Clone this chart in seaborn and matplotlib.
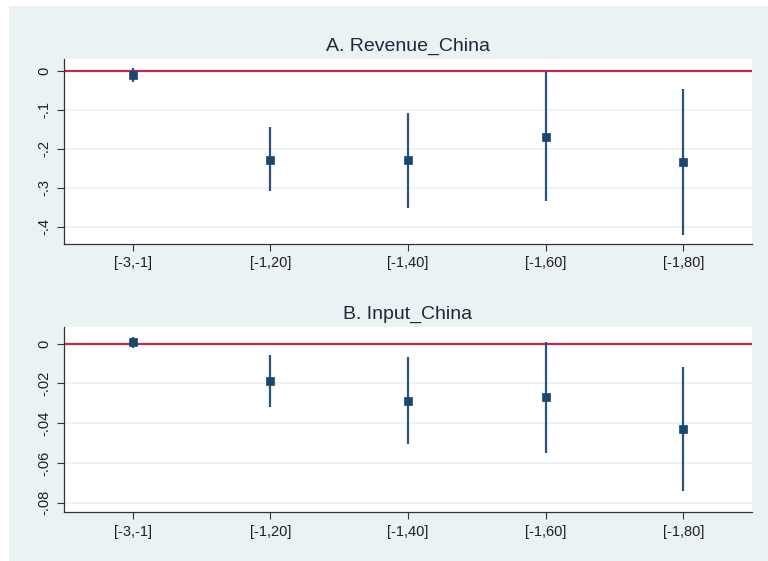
import numpy as np
import pandas as pd
import matplotlib
matplotlib.use("Agg")
import matplotlib.pyplot as plt
import seaborn as sns

# ---- data ----
categories = ["[-3,-1]", "[-1,20]", "[-1,40]", "[-1,60]", "[-1,80]"]

rev_coef = [-0.010, -0.228, -0.230, -0.169, -0.235]
rev_lo = [-0.028, -0.308, -0.351, -0.333, -0.421]
rev_hi = [0.006, -0.144, -0.109, -0.004, -0.048]
rev_yticks = [0, -0.1, -0.2, -0.3, -0.4]
rev_yticklabels = ["0", "-.1", "-.2", "-.3", "-.4"]

inp_coef = [0.0009, -0.0186, -0.0288, -0.0270, -0.0431]
inp_lo = [-0.0020, -0.0317, -0.0505, -0.0548, -0.0741]
inp_hi = [0.0035, -0.0058, -0.0069, 0.0010, -0.0116]
inp_yticks = [0, -0.02, -0.04, -0.06, -0.08]
inp_yticklabels = ["0", "-.02", "-.04", "-.06", "-.08"]

titles = ["A. Revenue_China", "B. Input_China"]

sns.set_theme(style="white")
plt.rcParams["font.family"] = ["Liberation Sans", "DejaVu Sans"]

BG = "#EAF2F3"
NAVY = "#1A476F"
CI = "#2E5378"
RED = "#C8264B"
TXT = "#1f1f1f"

fig = plt.figure(figsize=(7.68, 5.61), dpi=100)
fig.patch.set_facecolor("white")
bgrect = plt.Rectangle((9 / 768, 0), 1 - 9 / 768, 1 - 6 / 561,
                       transform=fig.transFigure, facecolor=BG,
                       edgecolor="none", zorder=-10)
fig.add_artist(bgrect)

W, H = 768, 561
def axpos(l, t, r, b):
    return [l / W, 1 - b / H, (r - l) / W, (b - t) / H]

panels = [
    (axpos(64, 59, 752, 244), rev_coef, rev_lo, rev_hi, rev_yticks, rev_yticklabels, (-0.444, 0.030)),
    (axpos(64, 327, 752, 512.3), inp_coef, inp_lo, inp_hi, inp_yticks, inp_yticklabels, (-0.0848, 0.0084)),
]

for (pos, coef, lo, hi, yt, ytl, ylim), title in zip(panels, titles):
    ax = fig.add_axes(pos)
    ax.set_zorder(1)
    ax.set_facecolor("white")
    df = pd.DataFrame({"x": np.arange(len(categories)), "coef": coef, "lo": lo, "hi": hi})
    for yv in yt:
        ax.axhline(yv, color=BG, lw=1.2, zorder=1)
    ax.axhline(0, color=RED, lw=1.6, zorder=2)
    ax.vlines(df["x"], df["lo"], df["hi"], color=CI, lw=1.6, zorder=3)
    sns.scatterplot(data=df, x="x", y="coef", marker="s", s=40, color=NAVY,
                    edgecolor=NAVY, linewidth=0.5, ax=ax, zorder=4)
    ax.set_xlim(-0.5, len(categories) - 0.5)
    ax.set_ylim(*ylim)
    ax.set_xticks(df["x"])
    ax.set_xticklabels(categories, fontsize=10.5, color=TXT)
    ax.set_yticks(yt)
    ax.set_yticklabels(ytl, fontsize=10.5, color=TXT, rotation=90, va="center")
    ax.set_xlabel("")
    ax.set_ylabel("")
    ax.tick_params(axis="both", which="both", length=5, width=0.8, color="#333333",
                   left=True, bottom=True, direction="out", pad=4)
    for s in ["top", "right"]:
        ax.spines[s].set_visible(False)
    for s in ["left", "bottom"]:
        ax.spines[s].set_color("#333333")
        ax.spines[s].set_linewidth(0.9)
    ax.grid(False)
    ax.set_title(title, fontsize=14, color="#1e2a3a", pad=6)

fig.savefig("out.png", dpi=100, facecolor=fig.get_facecolor())
